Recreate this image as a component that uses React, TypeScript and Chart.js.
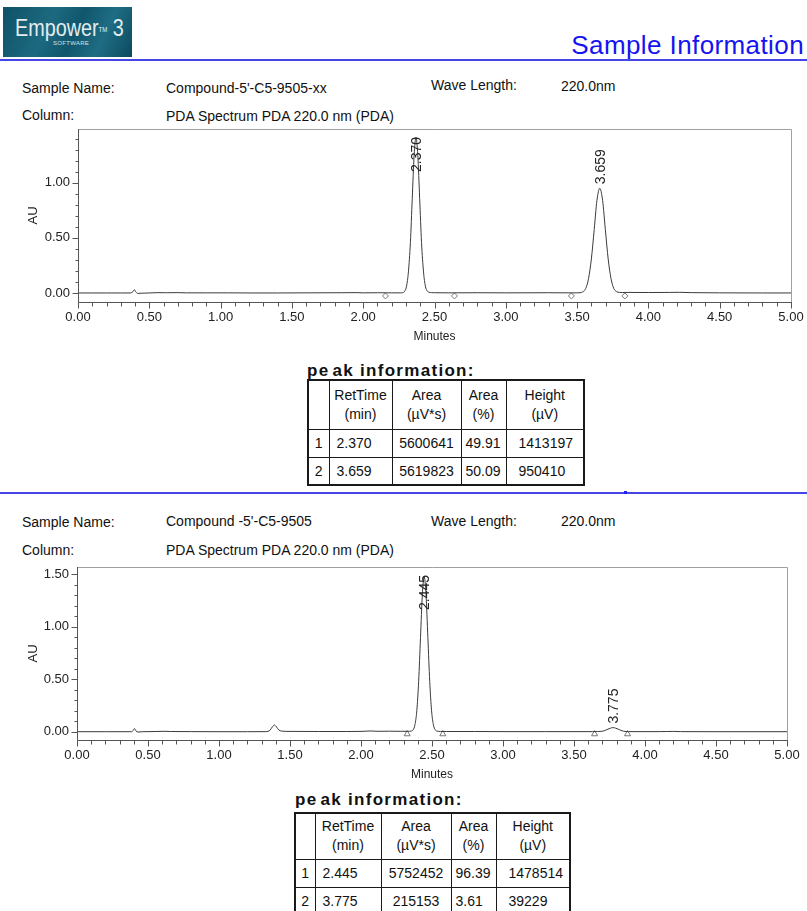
import React, { useEffect, useRef } from 'react';
import { Chart, registerables } from 'chart.js';
Chart.register(...registerables);

const FONT = '"Liberation Sans", Arial, Helvetica, sans-serif';
Chart.defaults.font.family = FONT;

// ---------- axis ticks ----------
const X_MAJOR_TICKS = [0, 0.5, 1, 1.5, 2, 2.5, 3, 3.5, 4, 4.5, 5];
const X_MINOR_STEP = 0.1;
const Y1_MAJOR_TICKS = [0, 0.5, 1.0];
const Y2_MAJOR_TICKS = [0, 0.5, 1.0, 1.5];
const Y_MINOR_STEP = 0.1;
const Y1_RANGE = [-0.082, 1.488];
const Y2_RANGE = [-0.079, 1.571];
const X_RANGE = [0, 5];

// ---------- sample 1 ----------
const S1_NAME = "Compound-5'-C5-9505-xx";
const S1_WAVE = '220.0nm';
const S1_COLUMN = 'PDA Spectrum PDA 220.0 nm (PDA)';
const TRACE1_MIN = [0.00, 0.10, 0.20, 0.30, 0.37, 0.385, 0.395, 0.405, 0.42, 0.45, 0.50, 0.56, 0.62, 0.70, 0.76, 0.90, 1.05, 1.20, 1.40, 1.60, 1.85, 1.95, 2.00, 2.10, 2.20, 2.26, 2.278, 2.291, 2.304, 2.317, 2.331, 2.344, 2.357, 2.370, 2.383, 2.396, 2.409, 2.423, 2.436, 2.449, 2.462, 2.48, 2.50, 2.60, 2.80, 3.00, 3.30, 3.45, 3.50, 3.521, 3.541, 3.561, 3.580, 3.600, 3.620, 3.639, 3.659, 3.679, 3.698, 3.718, 3.738, 3.757, 3.777, 3.797, 3.82, 3.85, 4.00, 4.15, 4.22, 4.30, 4.50, 4.80, 5.00];
const TRACE1_AU = [0, 0, 0, 0, 0, 0.012, 0.030, 0.010, -0.004, -0.002, 0, 0.003, 0.002, 0.003, 0.001, 0.001, 0.001, 0, 0, 0.001, 0.002, 0.003, 0.001, 0.002, 0.001, 0.001, 0.003, 0.016, 0.062, 0.191, 0.459, 0.857, 1.247, 1.413, 1.247, 0.857, 0.459, 0.191, 0.062, 0.018, 0.006, 0.003, 0.002, 0.001, 0.002, 0.001, 0.002, 0.001, 0.001, 0.002, 0.011, 0.042, 0.129, 0.308, 0.576, 0.838, 0.950, 0.838, 0.576, 0.308, 0.129, 0.042, 0.012, 0.005, 0.004, 0.005, 0.004, 0.005, 0.006, 0.003, 0.001, 0, 0];
const BOUNDS1_MIN = [2.156, 2.640, 3.460, 3.835];
const BOUNDS1_AU = [-0.027, -0.027, -0.027, -0.027];
const PEAK1_RT = [2.370, 3.659];
const PEAK1_AREA = [5600641, 5619823];
const PEAK1_PCT = [49.91, 50.09];
const PEAK1_HEIGHT = [1413197, 950410];

// ---------- sample 2 ----------
const S2_NAME = "Compound -5'-C5-9505";
const S2_WAVE = '220.0nm';
const S2_COLUMN = 'PDA Spectrum PDA 220.0 nm (PDA)';
const TRACE2_MIN = [0.00, 0.20, 0.385, 0.395, 0.405, 0.415, 0.43, 0.46, 0.55, 0.62, 0.66, 0.80, 1.00, 1.20, 1.33, 1.36, 1.375, 1.39, 1.405, 1.42, 1.44, 1.50, 1.70, 1.90, 2.00, 2.07, 2.12, 2.20, 2.28, 2.33, 2.354, 2.367, 2.380, 2.393, 2.406, 2.419, 2.432, 2.445, 2.458, 2.471, 2.484, 2.497, 2.510, 2.523, 2.536, 2.56, 2.60, 2.80, 3.00, 3.30, 3.50, 3.63, 3.665, 3.702, 3.720, 3.739, 3.757, 3.775, 3.793, 3.812, 3.830, 3.848, 3.885, 3.95, 4.10, 4.15, 4.20, 4.25, 4.50, 5.00];
const TRACE2_AU = [0, 0, 0, 0.012, 0.030, 0.008, -0.003, 0, 0.002, 0.004, 0.002, 0.001, 0, 0, 0.001, 0.015, 0.045, 0.064, 0.045, 0.018, 0.006, 0.003, 0.002, 0.002, 0.003, 0.007, 0.004, 0.005, 0.004, 0.004, 0.006, 0.018, 0.067, 0.200, 0.480, 0.897, 1.305, 1.479, 1.305, 0.897, 0.480, 0.200, 0.065, 0.018, 0.006, 0.003, 0.002, 0.002, 0.001, 0.001, 0.001, 0.001, 0.002, 0.005, 0.013, 0.024, 0.034, 0.039, 0.034, 0.024, 0.013, 0.005, 0.001, 0.001, 0.001, 0.002, 0.003, 0.001, 0, 0];
const BOUNDS2_MIN = [2.325, 2.576, 3.645, 3.877];
const BOUNDS2_AU = [-0.022, -0.022, -0.022, -0.022];
const PEAK2_RT = [2.445, 3.775];
const PEAK2_AREA = [5752452, 215153];
const PEAK2_PCT = [96.39, 3.61];
const PEAK2_HEIGHT = [1478514, 39229];

const TABLE_HEADERS = [['RetTime', '(min)'], ['Area', '(µV*s)'], ['Area', '(%)'], ['Height', '(µV)']];

function buildTicks(min: number, max: number, step: number) {
  const out: number[] = [];
  const n = Math.floor((max - min) / step + 1e-6);
  for (let i = 0; i <= n; i++) out.push(Math.round((min + i * step) * 1000) / 1000);
  return out;
}

type ChromProps = {
  top: number; height: number; padTop: number; padRight: number; yAxisW: number;
  tMin: number[]; au: number[]; bMin: number[]; bAu: number[]; markerStyle: string;
  peakRt: number[]; peakHeight: number[]; yRange: number[]; yMajor: number[];
};

function Chromatogram(p: ChromProps) {
  const ref = useRef<HTMLCanvasElement>(null);
  useEffect(() => {
    const canvas = ref.current!;
    const xTicks = buildTicks(X_RANGE[0], X_RANGE[1], X_MINOR_STEP);
    const yTicks = buildTicks(0, p.yRange[1], Y_MINOR_STEP);
    const isMajor = (arr: number[], v: number) => arr.some(m => Math.abs(m - v) < 1e-6);

    const framePlugin = {
      id: 'frame',
      afterDraw(chart: any) {
        const { ctx, chartArea: { left, right, top, bottom }, scales: { x, y } } = chart;
        ctx.save();
        ctx.lineWidth = 1;
        ctx.strokeStyle = '#a0a0a0';
        ctx.beginPath();
        ctx.moveTo(left, Math.round(top) + 0.5);
        ctx.lineTo(Math.round(right) + 0.5, Math.round(top) + 0.5);
        ctx.lineTo(Math.round(right) + 0.5, Math.round(bottom) + 0.5);
        ctx.stroke();
        ctx.strokeStyle = '#555';
        ctx.beginPath();
        const L = Math.round(left) + 0.5, B = Math.round(bottom) + 0.5;
        ctx.moveTo(L, Math.round(top));
        ctx.lineTo(L, B);
        ctx.lineTo(Math.round(right) + 1, B);
        x.ticks.forEach((t: any) => {
          const px = Math.round(x.getPixelForValue(t.value)) + 0.5;
          ctx.moveTo(px, B);
          ctx.lineTo(px, B + (isMajor(X_MAJOR_TICKS, t.value) ? 6 : 4));
        });
        y.ticks.forEach((t: any) => {
          const py = Math.round(y.getPixelForValue(t.value)) + 0.5;
          ctx.moveTo(L, py);
          ctx.lineTo(L - (isMajor(p.yMajor, t.value) ? 6 : 3), py);
        });
        ctx.stroke();
        ctx.restore();
      },
    };

    const labelPlugin = {
      id: 'peakLabels',
      afterDatasetsDraw(chart: any) {
        const { ctx, chartArea, scales: { x, y } } = chart;
        ctx.save();
        ctx.font = `14px ${FONT}`;
        ctx.fillStyle = '#222';
        ctx.textBaseline = 'middle';
        ctx.textAlign = 'left';
        p.peakRt.forEach((rt, i) => {
          const label = rt.toFixed(3);
          const w = ctx.measureText(label).width;
          const px = x.getPixelForValue(rt);
          const topPx = y.getPixelForValue(p.peakHeight[i] / 1e6);
          let start = topPx - 4;
          if (start - w < chartArea.top + 8) start = chartArea.top + 8 + w;
          ctx.save();
          ctx.translate(px + 1, start);
          ctx.rotate(-Math.PI / 2);
          ctx.fillText(label, 0, 0);
          ctx.restore();
        });
        ctx.restore();
      },
    };

    const chart = new Chart(canvas, {
      type: 'line',
      data: {
        datasets: [
          {
            type: 'line',
            data: p.tMin.map((t, i) => ({ x: t, y: p.au[i] })),
            borderColor: '#3a3a3a',
            borderWidth: 1,
            pointRadius: 0,
            cubicInterpolationMode: 'monotone',
          } as any,
          {
            type: 'scatter',
            data: p.bMin.map((t, i) => ({ x: t, y: p.bAu[i] })),
            pointStyle: p.markerStyle,
            pointRadius: p.markerStyle === 'triangle' ? 3.5 : 3,
            backgroundColor: '#ffffff',
            borderColor: '#777',
            borderWidth: 1,
          } as any,
        ],
      },
      options: {
        animation: false,
        responsive: false,
        events: [],
        layout: { padding: { top: p.padTop, right: p.padRight, left: 0, bottom: 0 } },
        plugins: { legend: { display: false }, tooltip: { enabled: false } },
        scales: {
          x: {
            type: 'linear',
            min: X_RANGE[0],
            max: X_RANGE[1],
            grid: { display: false, drawTicks: false },
            border: { display: false },
            afterBuildTicks: (axis: any) => { axis.ticks = xTicks.map(v => ({ value: v })); },
            afterFit: (s: any) => { s.height = 48; s.paddingLeft = 0; s.paddingRight = 0; },
            ticks: {
              autoSkip: false,
              maxRotation: 0,
              padding: 8,
              color: '#222',
              font: { size: 13 },
              callback: (v: any) => (isMajor(X_MAJOR_TICKS, Number(v)) ? Number(v).toFixed(2) : ''),
            },
            title: { display: true, text: 'Minutes', color: '#222', font: { size: 12 }, padding: { top: 0, bottom: 6 } },
          },
          y: {
            type: 'linear',
            min: p.yRange[0],
            max: p.yRange[1],
            grid: { display: false, drawTicks: false },
            border: { display: false },
            afterBuildTicks: (axis: any) => { axis.ticks = yTicks.map(v => ({ value: v })); },
            afterFit: (s: any) => { s.width = p.yAxisW; s.paddingTop = 0; s.paddingBottom = 0; },
            ticks: {
              autoSkip: false,
              padding: 8,
              color: '#222',
              font: { size: 13 },
              callback: (v: any) => (isMajor(p.yMajor, Number(v)) ? Number(v).toFixed(2) : ''),
            },
            title: { display: true, text: 'AU', color: '#222', font: { size: 13 }, padding: { top: 26, bottom: 0 } },
          },
        },
      } as any,
      plugins: [labelPlugin, framePlugin],
    });
    return () => chart.destroy();
  }, []);
  return (
    <canvas
      ref={ref}
      width={807}
      height={p.height}
      style={{ position: 'absolute', left: 0, top: p.top, width: 807, height: p.height }}
    />
  );
}

function Txt(props: { x: number; y: number; children: any; size?: number; style?: any }) {
  const size = props.size ?? 14;
  return (
    <div
      style={{
        position: 'absolute', left: props.x, top: props.y - size * 0.6, fontSize: size,
        lineHeight: `${size * 1.2}px`, whiteSpace: 'nowrap', color: '#111', ...props.style,
      }}
    >
      {props.children}
    </div>
  );
}

function PeakTable(props: {
  left: number; top: number; widths: number[]; headH: number; rowH: number;
  rt: number[]; area: number[]; pct: number[]; height: number[];
}) {
  const cell = { border: '1px solid #1a1a1a', padding: 0, fontSize: 14, color: '#111', whiteSpace: 'nowrap' as const };
  const aligns = ['left', 'center', 'left', 'left'];
  const pads = [7, 0, 4, 12];
  return (
    <table
      style={{
        position: 'absolute', left: props.left, top: props.top, borderCollapse: 'collapse',
        border: '2px solid #1a1a1a', tableLayout: 'fixed', fontFamily: FONT,
        width: props.widths.reduce((a, b) => a + b, 0),
      }}
    >
      <colgroup>
        {props.widths.map((w, i) => <col key={i} style={{ width: w }} />)}
      </colgroup>
      <tbody>
        <tr style={{ height: props.headH }}>
          <td style={cell}></td>
          {TABLE_HEADERS.map((h, i) => (
            <td key={i} style={{ ...cell, textAlign: 'center', lineHeight: '19px' }}>
              {h[0]}<br />{h[1]}
            </td>
          ))}
        </tr>
        {props.rt.map((rt, r) => {
          const vals = [rt.toFixed(3), String(props.area[r]), props.pct[r].toFixed(2), String(props.height[r])];
          return (
            <tr key={r} style={{ height: props.rowH }}>
              <td style={{ ...cell, textAlign: 'center' }}>{r + 1}</td>
              {vals.map((v, i) => (
                <td key={i} style={{ ...cell, textAlign: aligns[i] as any, paddingLeft: pads[i] }}>{v}</td>
              ))}
            </tr>
          );
        })}
      </tbody>
    </table>
  );
}

function PeakTitle(props: { x: number; y: number }) {
  return (
    <div
      style={{
        position: 'absolute', left: props.x, top: props.y - 10, fontSize: 17, lineHeight: '20px',
        fontWeight: 'bold', letterSpacing: 1.3, color: '#111', whiteSpace: 'nowrap',
      }}
    >
      <span>pe</span><span style={{ marginLeft: 3 }}>ak information:</span>
    </div>
  );
}

function Logo() {
  return (
    <div
      style={{
        position: 'absolute', left: 3, top: 7, width: 129, height: 50, overflow: 'hidden',
        background: 'linear-gradient(115deg, #0f5166 0%, #1c6a80 35%, #10566c 55%, #1e6d84 75%, #0d4a5e 100%)',
      }}
    >
      <div
        style={{
          position: 'absolute', left: 12, top: 8, fontSize: 23, lineHeight: '26px', color: '#e3ecef',
          fontFamily: FONT, transform: 'scaleX(0.86)', transformOrigin: 'left top', whiteSpace: 'nowrap',
        }}
      >
        Empower<span style={{ fontSize: 7, verticalAlign: 'top', position: 'relative', top: 2 }}>TM</span> 3
      </div>
      <div
        style={{
          position: 'absolute', left: 50, top: 33, fontSize: 6, lineHeight: '7px', color: '#d5e2e6',
          letterSpacing: 0.3, fontFamily: FONT,
        }}
      >
        SOFTWARE
      </div>
    </div>
  );
}

export default function App() {
  return (
    <div
      style={{
        position: 'absolute', left: 0, top: 0, width: 807, height: 911, overflow: 'hidden',
        background: '#fff', fontFamily: FONT,
      }}
    >
      <Logo />
      <div
        style={{
          position: 'absolute', right: 3, top: 30, fontSize: 26, lineHeight: '30px', color: '#1414f0',
          whiteSpace: 'nowrap', letterSpacing: 0.4,
        }}
      >
        Sample Information
      </div>
      <div style={{ position: 'absolute', left: 0, top: 59, width: 807, height: 2, background: '#4646e6' }} />

      <Txt x={22} y={88}>Sample Name:</Txt>
      <Txt x={166} y={88}>{S1_NAME}</Txt>
      <Txt x={431} y={85}>Wave Length:</Txt>
      <Txt x={561} y={86}>{S1_WAVE}</Txt>
      <Txt x={22} y={115}>Column:</Txt>
      <Txt x={166} y={116}>{S1_COLUMN}</Txt>

      <Chromatogram
        top={120} height={230} padTop={9} padRight={16} yAxisW={78}
        tMin={TRACE1_MIN} au={TRACE1_AU} bMin={BOUNDS1_MIN} bAu={BOUNDS1_AU} markerStyle="rectRot"
        peakRt={PEAK1_RT} peakHeight={PEAK1_HEIGHT} yRange={Y1_RANGE} yMajor={Y1_MAJOR_TICKS}
      />

      <PeakTitle x={307} y={371} />
      <PeakTable
        left={307} top={379} widths={[21, 63, 69, 45, 78]} headH={49} rowH={28}
        rt={PEAK1_RT} area={PEAK1_AREA} pct={PEAK1_PCT} height={PEAK1_HEIGHT}
      />

      <div style={{ position: 'absolute', left: 0, top: 492, width: 807, height: 1.5, background: '#4646e6' }} />
      <div style={{ position: 'absolute', left: 624, top: 491, width: 3, height: 3, background: '#2222ee' }} />

      <Txt x={22} y={522}>Sample Name:</Txt>
      <Txt x={166} y={521}>{S2_NAME}</Txt>
      <Txt x={431} y={521}>Wave Length:</Txt>
      <Txt x={561} y={521}>{S2_WAVE}</Txt>
      <Txt x={22} y={550}>Column:</Txt>
      <Txt x={166} y={550}>{S2_COLUMN}</Txt>

      <Chromatogram
        top={558} height={230} padTop={9} padRight={20} yAxisW={77}
        tMin={TRACE2_MIN} au={TRACE2_AU} bMin={BOUNDS2_MIN} bAu={BOUNDS2_AU} markerStyle="triangle"
        peakRt={PEAK2_RT} peakHeight={PEAK2_HEIGHT} yRange={Y2_RANGE} yMajor={Y2_MAJOR_TICKS}
      />

      <PeakTitle x={295} y={800} />
      <PeakTable
        left={294} top={812} widths={[20, 66, 70, 45, 74]} headH={46} rowH={28}
        rt={PEAK2_RT} area={PEAK2_AREA} pct={PEAK2_PCT} height={PEAK2_HEIGHT}
      />
    </div>
  );
}
